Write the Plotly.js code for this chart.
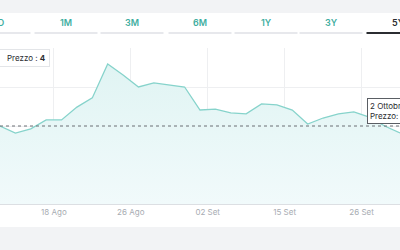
<!DOCTYPE html>
<html>
<head>
<meta charset="utf-8">
<script src="https://cdn.plot.ly/plotly-3.0.1.min.js"></script>
<style>
  html, body { margin: 0; padding: 0; background: #f2f3f5; }
  #chart { width: 400px; height: 250px; }
</style>
</head>
<body>
<div id="chart"></div>
<script>
// ---- data ----
const prices = [4.000, 3.964, 3.985, 4.031, 4.031, 4.097, 4.144, 4.318, 4.262, 4.200,
                4.221, 4.210, 4.200, 4.082, 4.087, 4.067, 4.062, 4.113, 4.108, 4.082,
                4.010, 4.041, 4.062, 4.072, 4.046, 4.000, 3.964];
const tickLabels = ["18 Ago", "26 Ago", "02 Set", "15 Set", "26 Set"];
const tickIndex = [3.5, 8.5, 13.5, 18.5, 23.5];
const tabLabels = ["1D", "1M", "3M", "6M", "1Y", "3Y", "5Y"];
const activeTab = "5Y";
const hoverIndex = 25;
const hoverDate = "2 Ottobre";
const legendText = "Prezzo : <b>4</b>";

const idx = prices.map((_, i) => i);
const W = 400, H = 250, mt = 48, mb = 46;
const ph = H - mt - mb;
const py = px => (H - mb - px) / ph;   // pixel row -> paper y
const pxx = px => px / W;              // pixel col -> paper x
const yMin = 3.6, yMax = 4.4;

const trace = {
  x: idx, y: prices, type: 'scatter', mode: 'lines',
  line: { color: '#86d3cb', width: 1.3 },
  fill: 'tozeroy', fillcolor: '#eaf8f8',
  fillgradient: { type: 'vertical', start: yMin, stop: Math.max(...prices),
    colorscale: [[0, '#f1fafb'], [1, '#e0f4f3']] },
  hoverinfo: 'none', showlegend: false
};

const shapes = [];
// white panel
shapes.push({ type: 'rect', xref: 'paper', yref: 'paper', x0: -0.01, x1: 1.01,
  y0: py(227), y1: py(13), fillcolor: '#ffffff', line: { width: 0 }, layer: 'below' });
// tabs
const tabCenters = [-1, 66, 132, 200, 266, 331, 398];
const annotations = [];
tabLabels.forEach((t, i) => {
  const c = tabCenters[i];
  const active = t === activeTab;
  shapes.push({ type: 'line', xref: 'paper', yref: 'paper',
    x0: pxx(c - 31.5), x1: pxx(c + 31.5), y0: py(33), y1: py(33),
    line: { color: active ? '#2b2d31' : '#dfe1e6', width: active ? 1.8 : 1.6 } });
  annotations.push({ xref: 'paper', yref: 'paper', x: pxx(c), y: py(23),
    text: t, showarrow: false, xanchor: 'center', yanchor: 'middle',
    font: { family: 'Inter, Lato, sans-serif', size: 9, weight: 600,
            color: active ? '#2b2d31' : '#3fae9f' } });
});
// crosshair dotted line at hovered price
shapes.push({ type: 'line', xref: 'paper', yref: 'y', x0: 0, x1: 1,
  y0: prices[hoverIndex], y1: prices[hoverIndex],
  line: { color: '#6b6f75', width: 1, dash: 'dot' } });

// legend-like label top-left
annotations.push({ xref: 'paper', yref: 'paper', x: pxx(-6), y: py(58),
  xanchor: 'left', yanchor: 'middle', align: 'left', showarrow: false,
  text: '&nbsp;&nbsp;&nbsp;&nbsp;' + legendText,
  font: { family: 'Inter, Lato, sans-serif', size: 8, color: '#2b2d31' },
  bgcolor: '#ffffff', bordercolor: '#e3e5e8', borderwidth: 1, borderpad: 3 });
// hover tooltip
annotations.push({ xref: 'paper', yref: 'paper', x: pxx(367), y: py(110.5),
  xanchor: 'left', yanchor: 'middle', align: 'left', showarrow: false,
  text: hoverDate + '<br>Prezzo: ' + prices[hoverIndex].toFixed(2).replace('.', ','),
  font: { family: 'Inter, Lato, sans-serif', size: 8, color: '#2b2d31' },
  bgcolor: '#ffffff', bordercolor: '#5a5e64', borderwidth: 1, borderpad: 2 });

const layout = {
  width: W, height: H,
  margin: { l: 0, r: 0, t: mt, b: mb, pad: 0 },
  paper_bgcolor: '#f2f3f5', plot_bgcolor: 'rgba(0,0,0,0)',
  xaxis: {
    range: [0, prices.length - 1], tickmode: 'array', tickvals: tickIndex, ticktext: tickLabels,
    showgrid: true, gridcolor: '#eeeff1', gridwidth: 1, zeroline: false,
    showline: true, linecolor: '#dcdfe3', linewidth: 1, ticks: '',
    tickfont: { family: 'Inter, Lato, sans-serif', size: 8, color: '#a7acb2' },
    fixedrange: true
  },
  yaxis: {
    range: [yMin, yMax], dtick: 0.2, tick0: yMin, showticklabels: false,
    showgrid: true, gridcolor: '#eeeff1', zeroline: false, fixedrange: true
  },
  shapes: shapes, annotations: annotations,
  hovermode: false
};

Plotly.newPlot('chart', [trace], layout, { displayModeBar: false, staticPlot: true });
</script>
</body>
</html>
